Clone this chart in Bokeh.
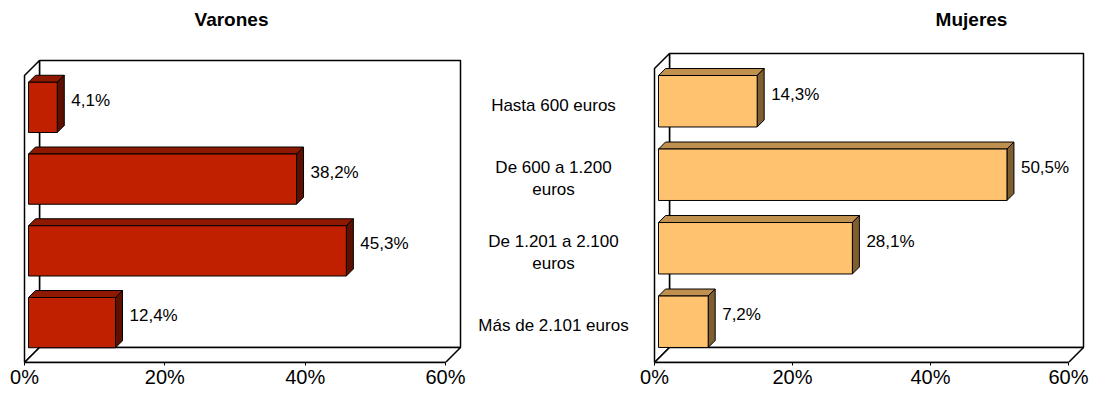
import numpy as np
from bokeh.plotting import figure
from bokeh.layouts import row
from bokeh.models import Range1d, FixedTicker, ColumnDataSource
from bokeh.core.properties import value
from bokeh.embed import file_html
from bokeh.resources import INLINE

# ---------------- data ----------------
CATEGORIES = ["Hasta 600 euros", "De 600 a 1.200\neuros",
              "De 1.201 a 2.100\neuros", "Más de 2.101 euros"]
VARONES = [4.1, 38.2, 45.3, 12.4]
MUJERES = [14.3, 50.5, 28.1, 7.2]
TICKS = [0, 20, 40, 60]
TICK_LABELS = ["0%", "20%", "40%", "60%"]
TITLES = ["Varones", "Mujeres"]

FONT = "Liberation Sans"
WALL = 15.0       # depth of the 3-D box, px
BAR_FRONT = 4.0   # depth offset of bar front face, px
BAR_BACK = 11.0   # depth offset of bar back face, px
BAR_HALF = 0.35   # half bar height, fraction of a category
FIG_H = 396
BORDER_B = 34


def pct(v):
    return ("%.1f%%" % v).replace(".", ",")


def make_panel(title, values, fig_w, zero_px, px_pct, front_top, title_cx,
               colors, show_cats, cat_cx):
    n = len(values)
    frame_h = FIG_H - BORDER_B
    px_cat = (frame_h - front_top) / n
    xs = -zero_px / px_pct
    xe = xs + fig_w / px_pct
    ye = frame_h / px_cat
    xmax = TICKS[-1]
    p = figure(width=fig_w, height=FIG_H, x_range=Range1d(xs, xe),
               y_range=Range1d(0, ye), output_backend="svg", title=None,
               toolbar_location=None, tools="", y_axis_location=None,
               min_border_left=0, min_border_right=0, min_border_top=0,
               min_border_bottom=BORDER_B)
    p.outline_line_color = None
    p.grid.visible = False

    # box walls
    wx, wy = WALL / px_pct, WALL / px_cat
    p.quad(left=[wx], right=[xmax + wx], bottom=[wy], top=[n + wy],
           fill_color="white", line_color="black", line_width=1.5)
    p.patch([0, 0, wx, wx], [0, n, n + wy, wy], fill_color="white",
            line_color="black", line_width=1.5)
    p.patch([0, xmax, xmax + wx, wx], [0, 0, wy, wy], fill_color="white",
            line_color="black", line_width=1.5)

    # bars
    v = np.array(values, dtype=float)
    cy = n - np.arange(n) - 0.5
    fx, fy = BAR_FRONT / px_pct, BAR_FRONT / px_cat
    bx, by = BAR_BACK / px_pct, BAR_BACK / px_cat
    lo, hi = cy - BAR_HALF, cy + BAR_HALF
    top_xs = [[fx, vi + fx, vi + bx, bx] for vi in v]
    top_ys = [[h + fy, h + fy, h + by, h + by] for h in hi]
    side_xs = [[vi + fx, vi + bx, vi + bx, vi + fx] for vi in v]
    side_ys = [[l + fy, l + by, h + by, h + fy] for l, h in zip(lo, hi)]
    p.patches(top_xs, top_ys, fill_color=colors[1], line_color="black",
              line_width=1)
    p.patches(side_xs, side_ys, fill_color=colors[2], line_color="black",
              line_width=1)
    p.quad(left=fx, right=v + fx, bottom=lo + fy, top=hi + fy,
           fill_color=colors[0], line_color="black", line_width=1)

    # value labels
    src = ColumnDataSource(dict(x=v + (BAR_BACK + 7) / px_pct, y=cy + by,
                                t=[pct(a) for a in values]))
    p.text(x="x", y="y", text="t", source=src, text_align="left",
           text_baseline="middle", text_font=value(FONT),
           text_font_size="17px", text_color="black")

    # category labels
    if show_cats:
        p.text(x=[xs + cat_cx / px_pct] * n, y=cy, text=CATEGORIES,
               text_align="center", text_baseline="middle",
               text_font=value(FONT), text_font_size="17px",
               text_line_height=1.15, text_color="black")

    # title
    p.text(x=[xs + title_cx / px_pct], y=[ye - 18.5 / px_cat], text=[title],
           text_align="center", text_baseline="middle",
           text_font=value(FONT), text_font_size="19px",
           text_font_style="bold", text_color="black")

    ax = p.xaxis[0]
    ax.ticker = FixedTicker(ticks=TICKS)
    ax.major_label_overrides = dict(zip(TICKS, TICK_LABELS))
    ax.bounds = (TICKS[0], TICKS[-1])
    ax.axis_line_color = "black"
    ax.axis_line_width = 1.5
    ax.major_tick_out = 3
    ax.major_tick_in = 0
    ax.minor_tick_out = 0
    ax.minor_tick_in = 0
    ax.major_tick_line_color = "black"
    ax.major_label_standoff = 0
    ax.axis_label_standoff = 0
    ax.major_label_text_line_height = 1.0
    ax.major_label_text_font = FONT
    ax.major_label_text_font_size = "20px"
    ax.major_label_text_color = "black"
    return p


p1 = make_panel(TITLES[0], VARONES, 470, 24, 421 / 60, 75, 231,
                ("#C02000", "#8E1800", "#5E1000"), False, 0)
p2 = make_panel(TITLES[1], MUJERES, 619, 184, 414 / 60, 68, 501,
                ("#FFC26E", "#C0904F", "#7F5F30"), True, 83)

layout = row(p1, p2)
open("out.html", "w", encoding="utf-8").write(file_html(layout, INLINE))
